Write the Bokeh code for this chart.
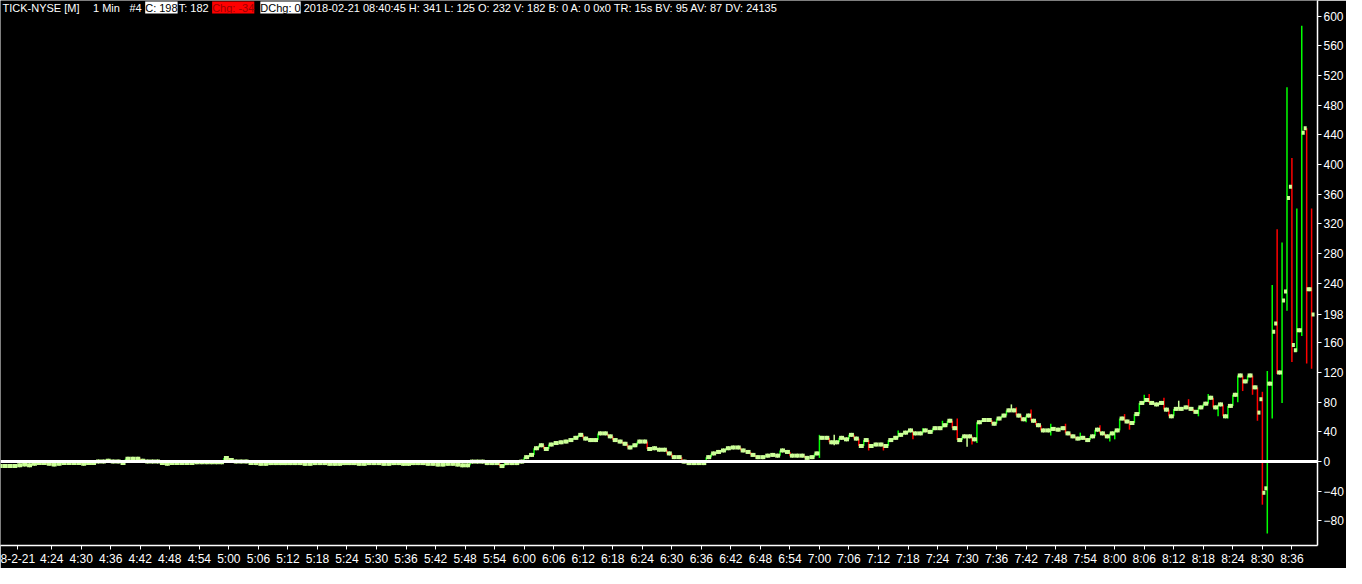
from bokeh.plotting import figure
from bokeh.models import Range1d, LinearAxis, FixedTicker, Span, Label, ColumnDataSource
from bokeh.embed import file_html
from bokeh.resources import INLINE

# ---------------- data ----------------
first_minute = 14          # first bar = 4:14 (minutes after 4:00)
closes = [
    -6, -6, -6, -5, -4, -5,
    -3, -2, -2, -3, -4, -3, -2, -2, -2, -2, -3, -2, -2,
    0, 0, 1, 0, 0, -2, 4, 4, 4, 1, 0, 0, 0,
    -2, -3, -2, -2, -2, -2, -2, -1, -1, -1, -1, -1, -1, 5, 2, 0, 0, 0,
    -2, -2, -3, -3, -2, -2, -2, -2, -2, -2,
    -2, -3, -3, -2, -2, -2, -3, -3, -3, -2, -2, -2, -3, -3, -2,
    -2, -2, -3, -3, -2, -2, -3, -3, -2, -2, -2, -3,
    -3, -4, -4, -3, -3, -4, -5, -5, 0, 0, 0,
    -2, -2, -2, -6, -2, -2, -2, 0,
    6, 9, 18, 22, 17, 23, 25, 26, 27, 29,
    32, 36, 31, 29, 29, 38, 38, 34, 29, 27,
    24, 19, 22, 27, 27, 17, 18, 16, 16, 11,
    6, 6, 0, -2, -2, -2, -2, 6, 11, 13,
    15, 18, 19, 19, 15, 13, 9, 6, 6, 8,
    9, 8, 15, 13, 8, 8, 8, 5, 6, 11,
    32, 32, 26, 26, 32, 30, 36, 31, 21, 29,
    21, 23, 23, 21, 29, 32, 36, 39, 42, 38,
    38, 42, 40, 45, 45, 49, 55, 45, 29, 34,
    34, 30, 53, 56, 56, 51, 58, 62, 69, 69,
    62, 57, 62, 55, 49, 42, 42, 44, 43, 45,
    38, 34, 31, 32, 29, 34, 43, 38, 34, 38,
    42, 58, 54, 52, 64, 79, 83, 79, 77, 79,
    70, 61, 71, 71, 73, 71, 67, 73, 78, 86,
    73, 77, 61, 75, 90, 116, 108, 116, 100,
    66, -42, 105, 175, 120, 217, 355, 157, 177, 443, 232, 198,
]
# full OHLC for the last 12 bars (8:29 .. 8:40)
last_opens = [100, 84, -36, 105, 186, 120, 229, 370, 150, 177, 449, 232]
last_highs = [100, 94, 122, 238, 313, 295, 504, 409, 341, 587, 449, 341]
last_lows = [55, -58, -97, 58, 118, 79, 203, 134, 148, 169, 132, 125]
# earlier bars whose high/low wick extends beyond open/close
wick_minutes = [180, 183, 190, 193, 196, 199, 201, 205, 208, 210, 211, 212, 219, 220,
                 221, 222, 223, 227, 230, 233, 237, 239, 240, 242, 243, 246, 247, 250,
                 253, 255, 257, 259, 261, 263, 265, 266, 268]
wick_highs = [36, 36, 27, 23, 42, 42, 45, 55, 58, 34, 34, 53, 77, 73,
              62, 62, 70, 51, 51, 39, 49, 38, 42, 64, 54, 90, 91, 86,
              82, 84, 73, 91, 77, 75, 116, 116, 116]
wick_lows = [5, 22, 15, 15, 32, 30, 38, 45, 29, 20, 23, 25, 69, 62,
             55, 53, 55, 35, 38, 29, 38, 27, 30, 54, 43, 79, 79, 70,
             71, 71, 61, 78, 61, 58, 80, 95, 90]

x_tick_labels = ["4:24", "4:30", "4:36", "4:42", "4:48", "4:54", "5:00", "5:06", "5:12",
                 "5:18", "5:24", "5:30", "5:36", "5:42", "5:48", "5:54", "6:00", "6:06",
                 "6:12", "6:18", "6:24", "6:30", "6:36", "6:42", "6:48", "6:54", "7:00",
                 "7:06", "7:12", "7:18", "7:24", "7:30", "7:36", "7:42", "7:48", "7:54",
                 "8:00", "8:06", "8:12", "8:18", "8:24", "8:30", "8:36"]
y_ticks = [-80, -40, 0, 40, 80, 120, 160, 198, 240, 280, 320, 360, 400, 440, 480,
           520, 560, 600]
date_label = "8-2-21"
date_minute = 17

header = [
    (2, "TICK-NYSE [M]", "white", None),
    (94, "1 Min", "white", None),
    (131, "#4", "white", None),
    (147, "C: 198", "black", "white"),
    (181, "T: 182", "white", None),
    (215, "Chg: -34", "#9a0000", "#ff0000"),
    (264, "DChg: 0", "black", "white"),
    (308, "2018-02-21 08:40:45 H: 341 L: 125 O: 232 V: 182 B: 0 A: 0 0x0 TR: 15s "
          "BV: 95 AV: 87 DV: 24135", "white", None),
]

# ---------------- build OHLC ----------------
n = len(closes)
minutes = [first_minute + i for i in range(n)]
opens = [closes[0]] + closes[:-1]
opens[n - len(last_opens):] = last_opens
highs = [max(o, c) for o, c in zip(opens, closes)]
lows = [min(o, c) for o, c in zip(opens, closes)]
highs[n - len(last_highs):] = last_highs
lows[n - len(last_lows):] = last_lows
for m, h, l in zip(wick_minutes, wick_highs, wick_lows):
    k = m - first_minute
    highs[k] = max(h, highs[k])
    lows[k] = min(l, lows[k])

GREEN = "#00ff00"
RED = "#ff0000"
TICKC = "#ccff99"
colors = [GREEN if c > o else (RED if c < o else TICKC) for o, c in zip(opens, closes)]

src = ColumnDataSource(dict(
    t=minutes, t_open=[m - 0.3 for m in minutes], t_close=[m + 0.3 for m in minutes],
    o=opens, h=highs, l=lows, c=closes, col=colors))

X0, X1 = 13.6, 281.2
Y0, Y1 = -113, 621
W, H = 1346, 568
RB, BB = 24, 19

p = figure(width=W, height=H, output_backend="svg", toolbar_location=None,
           x_range=Range1d(X0, X1), y_range=Range1d(Y0, Y1),
           background_fill_color="black", border_fill_color="black",
           min_border_left=0, min_border_right=RB, min_border_top=0, min_border_bottom=BB,
           x_axis_location=None, y_axis_location=None)
p.grid.visible = False
p.outline_line_color = None

p.segment(x0="t", y0="l", x1="t", y1="h", color="col", line_width=1.5, source=src)
p.rect(x="t_open", y="o", width=3, height=4, width_units="screen", height_units="screen",
       fill_color=TICKC, line_color=None, source=src)
p.rect(x="t_close", y="c", width=3, height=4, width_units="screen", height_units="screen",
       fill_color=TICKC, line_color=None, source=src)

p.add_layout(Span(location=0, dimension="width", line_color="white", line_width=3))

def to_minute(lbl):
    h, m = lbl.split(":")
    return (int(h) - 4) * 60 + int(m)

x_ticks = [to_minute(s) for s in x_tick_labels]
overrides = {t: s for t, s in zip(x_ticks, x_tick_labels)}
overrides[date_minute] = date_label
xaxis = LinearAxis(ticker=FixedTicker(ticks=[date_minute] + x_ticks),
                   major_label_overrides=overrides)
yaxis = LinearAxis(ticker=FixedTicker(ticks=y_ticks))
for ax in (xaxis, yaxis):
    ax.axis_line_color = "white"
    ax.axis_line_width = 1.5
    ax.major_tick_line_color = "white"
    ax.major_tick_out = 4
    ax.major_tick_in = 0
    ax.minor_tick_line_color = None
    ax.major_label_text_color = "white"
    ax.major_label_text_font = "Liberation Sans"
    ax.major_label_text_font_size = "12px"
    ax.major_label_standoff = 2
p.add_layout(xaxis, "below")
p.add_layout(yaxis, "right")

px = (X1 - X0) / 1338.0  # minutes per reference pixel
for rx, txt, tc, bg in header:
    lab = Label(x=X0 + rx * px, y=Y1 - 1.5, text=txt, text_color=tc,
                text_font="Liberation Sans", text_font_size="11px", text_baseline="top",
                text_align="left")
    if bg:
        lab.background_fill_color = bg
    p.add_layout(lab)

open("out.html", "w").write(file_html(p, INLINE))
